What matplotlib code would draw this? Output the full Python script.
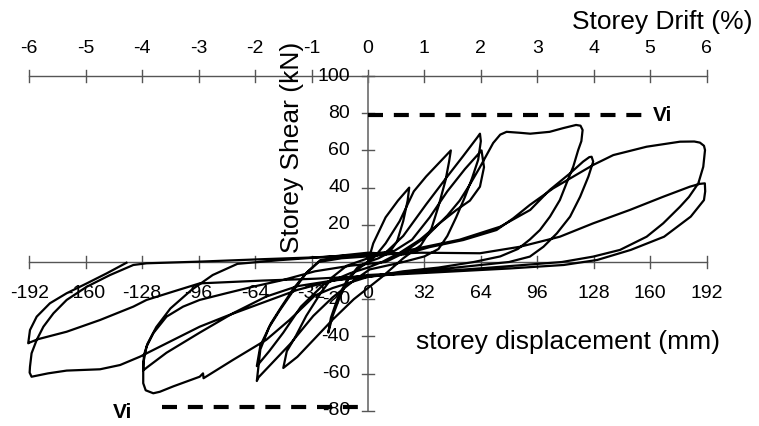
import matplotlib
matplotlib.use('Agg')
import matplotlib.pyplot as plt
import numpy as np

plt.rcParams['font.family'] = ['Liberation Sans', 'DejaVu Sans']

# =============================================================================
# data (displacement in mm, shear in kN), one list per cycle
# =============================================================================
c1_disp = [0, 3, 10, 17, 23.4, 22.5, 20, 16.5, 12, 6, 0, -6, -11, -16, -20, -22.5, -21, -17, -12, -6, 0]
c1_shear = [0, 10, 24, 33, 40, 33, 22, 11, 5, 2, 0, -3, -9, -19, -29, -38, -30, -19, -10, -4, 0]

c2_disp = [4, 10, 18, 26, 33, 41, 47, 46, 44, 40, 36, 30, 20, 8, 0, -8, -20, -31, -40, -48,
           -46, -41, -35, -27, -20, -12, 0, 10]
c2_shear = [3, 10, 22, 38, 46, 54, 60, 54, 44, 30, 18, 9, 2, -8, -14, -20, -31, -42, -51, -57,
            -48, -40, -29, -17, -8, -2, 2, 5]

c3_disp = [20, 33, 45, 54, 62, 63.5, 64, 62.5, 59, 55, 50, 45, 40, 32, 20, 1, -8, -20, -31, -44, -56,
           -62, -63, -61, -56, -50, -42, -35, -27, -15, 0, 15]
c3_shear = [14, 31, 46, 57, 67, 69, 65, 55, 45, 35, 24, 14, 7, 3, 0, -4, -10, -19, -29, -44, -56,
            -62, -64, -47, -35, -26, -15, -6, 1, 3, 4, 6]

c4_disp = [25, 35, 45, 55, 63, 64.4, 65.8, 63.5, 57.8, 50.2, 40.8, 29.5, 18.1, 8, 0, -10, -25, -38, -48,
           -56, -63, -61, -55, -49, -42, -35, -28, -15, 0, 20]
c4_shear = [12, 24, 38, 50, 58.5, 60, 51, 40.5, 33, 28, 21, 12, 5, 0, -3, -6, -12, -24, -38,
            -48, -56, -45, -33, -24, -14, -6, 0, 2, 3, 5]

c5_disp = [33, 45, 52, 58, 63.5, 71, 75, 78.6, 86, 92, 97.6, 103, 110.7, 118, 120.5, 121.7, 121, 119.2,
           116.4, 112.6, 108.8, 103.2, 97.5, 91.8, 85, 75, 60, 40, 20, 0, -20, -30, -44.5, -57.7, -76.6,
           -93.2, -93.5, -95.4, -110.4, -118, -121.7, -126, -127.4, -127.4, -125.5, -121.7, -114.2,
           -104.8, -95.4, -80.3, -65.2, -48.2, -30, -10, 10]
c5_shear = [13.6, 25, 33, 42, 51, 64, 68.5, 70, 69.5, 69, 69.5, 70, 72, 73.7, 73.3, 71, 65, 60.2,
            51.3, 42.4, 33.3, 24.4, 17.2, 12.1, 7, 3, 0, -3, -5, -8, -14, -18, -31.2, -41.9, -52.7,
            -62.5, -59.9, -61.7, -66.9, -69.8, -70.6, -69, -65.2, -54.5, -45.5, -38.3, -29.4,
            -24, -20.4, -16.8, -13.3, -9.7, -5, -2, 0]

c6_disp = [24, 52, 75, 92, 103, 114.6, 122, 125.5, 126.8, 127.7, 125, 120.3, 114.6, 107.1, 99.5, 91.8,
           80, 60, 40, 20, 0, -20, -40, -57.7, -76.6, -95.4, -114.2, -125, -127.4, -127, -125, -120,
           -112, -100, -88, -74, -50, -20, 0]
c6_shear = [6.5, 12, 19, 28, 38.7, 47.7, 54, 56.4, 56.6, 54, 46, 35.1, 24.4, 15.4, 8.2, 2.9,
            0, -2, -4, -6, -8, -10, -13, -18.6, -27.6, -38, -48.8, -56.5, -58.3, -50, -44, -35,
            -25, -15, -7, -1, 1, 3, 5]

c7_disp = [20, 35, 54, 72.9, 82.4, 91.8, 105, 116.4, 127.7, 139.1, 158, 176.9, 185, 188.2, 190.5, 191.1,
           190.1, 187.3, 182, 176.9, 167.4, 158, 142.9, 127.7, 110, 90, 64, 40, 20, 0, -20, -40, -60,
           -80, -95.4, -106.6, -117.9, -129.2, -140.5, -151.9, -170.8, -181.4, -188, -190.7, -191.8,
           -191.6, -190.7, -187.8, -184, -178.3, -170.8, -159.4, -146.2, -133, -125.5, -95.4, -60,
           -30, 0, 30]
c7_shear = [4, 8, 11.8, 17.2, 23.5, 30.7, 39.6, 45.9, 52.2, 57.5, 62, 64.7, 64.8, 64.2, 62.5, 60.2,
            51.2, 42.3, 35, 29.7, 20.8, 13.6, 6.5, 2.9, 0, -1.5, -3.4, -5, -6, -7, -10, -15, -22,
            -29, -34.8, -40.1, -45.5, -50.9, -55.4, -57.7, -58.4, -59.9, -61.2, -61.7, -59.5,
            -56.3, -49.1, -41.9, -34.8, -27.6, -20.4, -13.3, -7, -1.6, -0.7, 0.2, 1.5,
            2.5, 4, 5]

c8_disp = [63.5, 86.2, 108.8, 127.7, 148.5, 167.4, 182.5, 188, 191, 191.2, 190.5, 183, 167.9, 149, 130,
           111, 80, 50, 20, 0, -30, -60, -95.4, -110.4, -125.5, -133, -151.9, -170.8, -187, -191.5,
           -192.6, -191.6, -187.8, -180.3, -170.8, -159.4, -148.1, -136.9]
c8_shear = [4.7, 8.2, 13.6, 20.8, 28, 35.1, 40.5, 42, 42.3, 38, 33.3, 24.4, 13.6, 6.5, 1.1,
            -1.6, -3.5, -5, -6.5, -7.5, -9, -10, -11.5, -15.9, -20.4, -24, -31.2, -37.5, -41.5, -43.2,
            -43.7, -36.6, -29.4, -22.2, -16.8, -11.5, -6.1, -0.4]

disp_ticks = [-192, -160, -128, -96, -64, -32, 0, 32, 64, 96, 128, 160, 192]
drift_ticks = [-6, -5, -4, -3, -2, -1, 0, 1, 2, 3, 4, 5, 6]
shear_ticks = [-80, -60, -40, -20, 0, 20, 40, 60, 80, 100]
vi_shear = [79, -78]
vi_extent = [(0, 157), (-117, 0)]
MM_PER_DRIFT = 32.0   # 1 % drift = 32 mm

# =============================================================================
# figure: one axes filling the canvas, axes drawn by hand through the origin
# =============================================================================
fig = plt.figure(figsize=(7.59, 4.26), dpi=100)
ax = fig.add_axes([0, 0, 1, 1])
ax.set_xlim(-208.6, 221.7)
ax.set_ylim(-88.2, 140.9)
ax.axis('off')

AX_COL = '#555555'
TICK_X = 3.5     # half tick length along x (mm)
TICK_Y = 3.3     # half tick length along y (kN)

# displacement axis (y = 0)
ax.plot([disp_ticks[0], disp_ticks[-1]], [0, 0], color=AX_COL, lw=1.0, zorder=2)
for t in disp_ticks:
    ax.plot([t, t], [-TICK_Y, TICK_Y], color=AX_COL, lw=1.0, zorder=2)
    ax.text(t, -16.7, '%d' % t, ha='center', va='center', fontsize=14, zorder=3)

# drift axis (top, at shear = 100)
top = shear_ticks[-1]
ax.plot([drift_ticks[0] * MM_PER_DRIFT, drift_ticks[-1] * MM_PER_DRIFT], [top, top],
        color=AX_COL, lw=1.0, zorder=2)
for t in drift_ticks:
    ax.plot([t * MM_PER_DRIFT] * 2, [top - TICK_Y, top + TICK_Y], color=AX_COL, lw=1.0, zorder=2)
    ax.text(t * MM_PER_DRIFT, 115, '%d' % t, ha='center', va='center', fontsize=14, zorder=3)

# shear axis (x = 0)
ax.plot([0, 0], [shear_ticks[0], shear_ticks[-1]], color='#777777', lw=1.3, zorder=2)
for t in shear_ticks:
    ax.plot([-TICK_X, TICK_X], [t, t], color=AX_COL, lw=1.0, zorder=2)
    if t != 0:
        ax.text(-10.2, t, '%d' % t, ha='right', va='center', fontsize=14, zorder=3)

# titles
ax.text(218, 129, 'Storey Drift (%)', ha='right', va='center', fontsize=19)
ax.text(113.4, -43, 'storey displacement (mm)', ha='center', va='center', fontsize=19)
ax.text(-43, 61.8, 'Storey Shear (kN)', ha='center', va='center', fontsize=19, rotation=90)

# Vi lines
for v, (x0, x1) in zip(vi_shear, vi_extent):
    ax.plot([x0, x1], [v, v], color='black', lw=3, linestyle=(0, (3.6, 2.6)), zorder=4)
ax.text(161.6, vi_shear[0], 'Vi', ha='left', va='center', fontsize=15, fontweight='bold')
ax.text(-144.6, vi_shear[1] - 3, 'Vi', ha='left', va='center', fontsize=15, fontweight='bold')

# hysteresis curve
disp = np.concatenate([c1_disp, c2_disp, c3_disp, c4_disp, c5_disp, c6_disp, c7_disp, c8_disp])
shear = np.concatenate([c1_shear, c2_shear, c3_shear, c4_shear, c5_shear, c6_shear, c7_shear, c8_shear])
ax.plot(disp, shear, color='black', lw=1.6, solid_joinstyle='round', zorder=5)

fig.savefig('out.png', dpi=100, facecolor='white')
plt.close(fig)
